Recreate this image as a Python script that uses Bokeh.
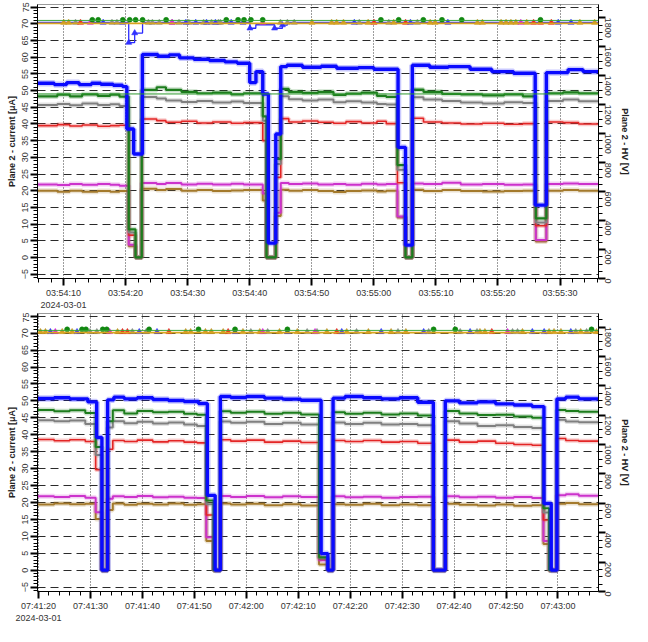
import math
import numpy as np
import pandas as pd
from bokeh.plotting import figure
from bokeh.models import (Range1d, LinearAxis, FixedTicker, DatetimeTickFormatter,
                          ColumnDataSource, Span)
from bokeh.layouts import column
from bokeh.embed import file_html
from bokeh.resources import INLINE

# ---------------- data ----------------
DATE = "2024-03-01"

# ---- top panel (seconds after 03:54:00) ----
TOP_BASE = "03:54:00"
TOP_XRANGE = [5.8, 96.2]
TOP_XTICKS = ["03:54:10", "03:54:20", "03:54:30", "03:54:40", "03:54:50",
              "03:55:00", "03:55:10", "03:55:20", "03:55:30"]

top_blue_t = [5.8, 8.5, 10.5, 12.5, 14.5, 16.0, 18.0, 19.5, 20.2, 21.3, 22.7, 25.2, 27.0,
              28.7, 31.0, 33.5, 36.0, 38.0, 40.0, 41.0, 42.1, 43.0, 44.2, 45.0, 46.0, 48.5,
              51.5, 54.0, 57.5, 60.0, 63.9, 65.1, 66.2, 69.0, 72.0, 75.5, 79.0, 82.5, 86.0,
              87.8, 91.3, 93.7, 96.2]
top_blue_v = [52.2, 51.8, 52.4, 51.8, 52.2, 51.9, 51.6, 51.2, 38.5, 31.0, 60.8, 60.3, 60.7,
              59.8, 59.4, 59.0, 58.6, 58.2, 52.4, 55.7, 49.0, 4.3, 37.0, 57.2, 57.6, 57.0,
              57.3, 56.7, 56.9, 56.4, 33.0, 3.7, 57.6, 57.0, 57.2, 56.4, 55.7, 55.2, 15.7,
              55.4, 56.3, 55.7, 55.7]

top_t = [5.8, 9.0, 11.0, 13.0, 15.5, 17.5, 19.0, 20.5, 21.6, 22.6, 25.0, 26.5, 29.0, 31.5,
         34.0, 37.0, 39.0, 42.1, 42.7, 44.2, 45.0, 46.3, 48.5, 51.0, 53.5, 55.5, 58.0, 60.5,
         62.0, 63.8, 65.1, 66.2, 68.0, 71.0, 74.0, 77.5, 81.0, 84.0, 86.1, 87.8, 90.5, 93.0, 96.2]
top_green_v = [48.3, 48.8, 48.3, 48.9, 48.4, 48.8, 48.2, 8.4, 0.0, 50.2, 51.0, 50.2, 49.6,
               49.2, 49.4, 48.9, 49.2, 42.3, 0.0, 29.5, 50.5, 49.6, 49.3, 49.6, 48.7, 49.1,
               49.4, 48.4, 48.1, 27.7, 0.0, 50.3, 49.6, 49.0, 48.9, 48.6, 48.9, 48.3, 11.7,
               49.2, 49.5, 49.2, 49.2]
top_gray_v = [45.7, 46.0, 45.6, 46.1, 45.7, 45.9, 45.4, 7.5, 0.0, 48.1, 47.6, 47.0, 46.6,
              46.9, 46.4, 46.7, 46.3, 41.0, 0.0, 28.0, 48.3, 47.4, 47.0, 47.3, 46.5, 46.8,
              46.4, 46.0, 45.8, 26.3, 0.0, 48.0, 47.3, 46.9, 46.4, 46.1, 46.5, 46.3, 10.5,
              46.9, 47.3, 46.8, 46.8]
top_red_v = [39.5, 39.8, 39.4, 39.7, 39.3, 39.5, 39.6, 6.7, 0.0, 41.5, 41.0, 40.5, 40.8,
             40.3, 40.6, 40.2, 40.4, 35.0, 0.0, 24.0, 41.6, 40.6, 40.9, 40.5, 40.2, 40.7,
             40.3, 40.8, 40.1, 22.4, 0.0, 41.7, 40.6, 40.3, 40.0, 40.2, 39.9, 40.1, 9.5,
             40.6, 40.4, 40.0, 40.0]
top_magenta_v = [21.9, 21.7, 22.0, 21.8, 22.0, 21.8, 21.5, 3.8, 0.0, 22.3, 22.0, 22.3, 21.9,
                 22.1, 21.9, 22.1, 21.9, 19.2, 0.0, 13.4, 22.3, 22.0, 22.2, 21.9, 22.0, 21.8,
                 22.1, 21.9, 22.0, 12.3, 0.0, 22.2, 22.0, 22.4, 21.9, 22.0, 21.8, 21.9, 5.2,
                 22.0, 22.2, 22.0, 22.0]
top_olive_v = [20.0, 19.7, 20.0, 19.7, 19.9, 19.7, 19.9, 3.4, 0.0, 20.6, 20.2, 20.5, 20.0,
               20.2, 19.9, 20.1, 20.2, 17.1, 0.0, 12.4, 20.3, 20.0, 20.2, 19.9, 19.6, 19.9,
               20.1, 19.8, 20.0, 12.0, 0.0, 20.3, 19.9, 20.2, 19.9, 19.8, 19.9, 20.0, 4.8,
               20.0, 20.2, 20.0, 20.0]
TOP_CURRENT_REF = 49.0

top_hv_blue_t = [5.8, 20.5, 21.46, 22.73, 40.03, 40.98, 44.0, 45.27, 46.06, 96.2]
top_hv_blue_v = [1768, 1629, 1695, 1768, 1728, 1752, 1728, 1750, 1768, 1768]
TOP_HV_GREEN = 1782
TOP_HV_ORANGE = 1762

top_mk_blue_t = [16.38, 19.55, 20.5, 21.46, 29.71, 31.30, 33.04, 34.47, 37.01, 38.92, 40.03,
                 44.0, 45.27, 56.85, 65.9, 71.93, 89.71, 91.77]
top_mk_blue_v = [1767, 1767, 1629, 1695, 1767, 1767, 1767, 1767, 1767, 1767, 1728,
                 1728, 1750, 1767, 1767, 1767, 1767, 1767]
top_mk_gray_t = [11.93, 17.80, 18.60, 23.68, 24.31, 25.42, 27.49, 28.60, 30.19, 32.57, 33.84,
                 34.95, 35.27, 44.95, 46.06, 47.17, 57.65, 62.41, 67.01]
top_mk_red_t = [12.73, 60.03, 65.11, 85.74, 86.85, 88.60]
top_mk_magenta_t = [14.31, 27.49, 42.09, 83.68]
top_mk_orange_t = [10.03, 10.82, 50.03, 53.20, 54.0, 55.11, 59.08, 63.20, 69.08, 69.87, 76.69,
                   77.49, 80.50, 81.30, 82.09, 82.88, 84.63, 93.20, 95.58]
top_mk_green_t = [14.63, 15.58, 19.55, 20.66, 21.61, 22.73, 26.53, 36.22, 38.12, 39.08, 40.19,
                  42.09, 61.14, 64.0, 67.97, 70.98, 74.16, 86.85]

# ---- bottom panel (seconds after 07:40:00) ----
BOT_BASE = "07:40:00"
BOT_XRANGE = [79.8, 187.8]
BOT_XTICKS = ["07:41:20", "07:41:30", "07:41:40", "07:41:50", "07:42:00", "07:42:10",
              "07:42:20", "07:42:30", "07:42:40", "07:42:50", "07:43:00"]

bot_blue_t = [79.8, 83.0, 86.0, 89.5, 91.2, 92.2, 93.3, 94.5, 96.5, 99.0, 102.0, 105.0, 108.0,
              110.8, 112.5, 114.0, 115.0, 117.0, 120.0, 123.5, 127.0, 130.5, 134.4, 135.7,
              136.7, 139.0, 142.5, 146.0, 149.5, 153.0, 156.0, 158.3, 161.0, 164.5, 168.0,
              171.5, 175.0, 177.3, 178.7, 179.8, 181.5, 184.0, 187.8]
bot_blue_v = [50.7, 50.9, 50.6, 49.7, 39.2, 0.0, 50.3, 51.1, 50.6, 50.9, 50.4, 50.1, 49.8,
              49.2, 22.1, 0.0, 51.3, 51.0, 51.3, 50.8, 50.5, 50.2, 4.9, 0.0, 50.8, 51.3, 50.9,
              50.6, 50.9, 49.6, 0.0, 50.0, 49.4, 49.7, 49.1, 48.8, 48.3, 19.7, 0.0, 50.6,
              51.1, 50.6, 50.6]

bot_t = [79.8, 83.0, 86.0, 89.0, 91.0, 92.2, 93.3, 94.3, 96.5, 99.0, 102.0, 105.0, 108.0,
         110.5, 112.3, 113.7, 115.0, 117.0, 120.0, 123.5, 127.0, 130.5, 134.0, 135.7, 136.7,
         139.0, 142.5, 146.0, 149.5, 153.0, 156.0, 158.3, 161.0, 164.5, 168.0, 171.5, 175.0,
         177.2, 178.3, 179.8, 181.5, 184.0, 187.8]
bot_green_v = [47.3, 46.9, 47.2, 46.4, 36.4, 0.0, 44.0, 47.2, 46.3, 47.0, 46.6, 46.8, 46.2,
               45.9, 20.6, 0.0, 46.9, 46.5, 46.8, 46.2, 46.5, 46.0, 3.8, 0.0, 46.6, 46.2, 46.5,
               46.0, 46.3, 45.7, 0.0, 47.0, 46.3, 45.8, 45.9, 45.4, 45.0, 18.3, 0.0, 47.3,
               47.0, 46.8, 46.8]
bot_gray_v = [44.3, 44.0, 44.2, 43.2, 34.0, 0.0, 42.1, 44.0, 43.4, 43.8, 43.3, 43.6, 43.0,
              42.6, 19.5, 0.0, 43.9, 43.5, 43.8, 43.2, 43.5, 43.0, 3.5, 0.0, 43.6, 43.2, 43.5,
              43.0, 43.2, 42.8, 0.0, 44.0, 43.3, 42.6, 42.8, 42.3, 42.0, 17.0, 0.0, 44.4,
              43.9, 43.7, 43.7]
bot_red_v = [38.6, 38.2, 38.5, 38.0, 29.7, 0.0, 35.7, 38.3, 38.0, 38.4, 37.9, 38.2, 37.8,
             37.6, 16.3, 0.0, 38.5, 38.1, 38.4, 37.8, 38.1, 37.7, 3.4, 0.0, 38.3, 38.0, 38.3,
             37.8, 38.0, 37.5, 0.0, 38.4, 37.8, 38.1, 37.5, 37.1, 36.9, 14.8, 0.0, 38.9,
             38.3, 38.1, 38.1]
bot_magenta_v = [21.8, 21.6, 21.9, 21.4, 17.1, 0.0, 21.1, 21.8, 21.6, 21.9, 21.5, 21.7, 21.4,
                 21.3, 9.7, 0.0, 21.9, 21.6, 21.9, 21.5, 21.8, 21.6, 2.9, 0.0, 21.8, 21.5,
                 21.7, 21.4, 21.6, 21.7, 0.0, 21.8, 21.5, 21.7, 21.4, 21.6, 21.3, 8.6, 0.0,
                 22.1, 22.4, 22.0, 22.0]
bot_olive_v = [19.4, 19.7, 19.5, 19.6, 15.1, 0.0, 17.8, 19.7, 19.3, 19.6, 19.4, 19.7, 19.3,
               19.5, 8.6, 0.0, 19.7, 19.4, 19.6, 19.2, 19.5, 19.1, 1.7, 0.0, 19.5, 19.3, 19.6,
               19.2, 19.4, 19.2, 0.0, 19.6, 19.3, 19.1, 19.4, 19.0, 19.2, 7.7, 0.0, 19.6,
               19.8, 19.5, 19.5]
BOT_HV_GREEN = 1777
BOT_HV_ORANGE = 1762

bot_mk_blue_t = [82.28, 87.41, 99.39, 102.81, 117.83, 127.91, 138.37, 145.97, 154.14, 163.08,
                 175.06, 177.34, 182.47]
bot_mk_gray_t = [89.89, 91.22, 98.06, 100.72, 120.87, 124.11, 131.71, 133.61, 141.22, 149.20,
                 155.10, 161.18, 164.41, 171.25, 172.21, 183.42, 185.51]
bot_mk_red_t = [96.16, 97.11, 105.10, 116.50, 137.41, 167.26]
bot_mk_magenta_t = [83.23, 93.69, 123.16, 133.23, 170.30]
bot_mk_orange_t = [80.38, 81.33, 84.56, 86.46, 95.21, 108.33, 109.28, 112.13, 113.27, 115.55,
                   119.35, 122.59, 126.39, 129.81, 135.51, 139.32, 143.50, 147.87, 150.72,
                   164.98, 165.93, 173.16, 178.29, 179.24, 180.57, 184.37, 187.41]
bot_mk_green_t = [85.51, 88.37, 89.13, 92.36, 93.12, 101.29, 110.80, 117.83, 127.91, 156.05,
                  160.23, 186.46]

CUR_TICKS = [-5, 0, 5, 10, 15, 20, 25, 30, 35, 40, 45, 50, 55, 60, 65, 70, 75]
HV_TICKS = [0, 200, 400, 600, 800, 1000, 1200, 1400, 1600, 1800]
CUR_RANGE = [-6.3, 75.8]
HV_RANGE = [0, 1892]
LEFT_LABEL = "Plane 2 - current [\u03bcA]"
RIGHT_LABEL = "Plane 2 - HV [V]"

# ---------------- helpers ----------------
C_BLUE = "#0a0aff"
C_GREEN = "#1d7d1d"
C_GRAY = "#808080"
C_RED = "#e32626"
C_MAG = "#cc33cc"
C_OLIVE = "#a47a2c"
FONT = "Liberation Sans"


def to_dt(base, secs):
    b = pd.Timestamp(f"{DATE} {base}")
    return [b + pd.Timedelta(seconds=float(s)) for s in secs]


def ms(ts):
    return ts.value / 1e6


def make_fig(base, xr, xticks, height, border_top, series, hv_blue, hv_green, hv_orange,
             markers, cur_ref=None):
    xs = to_dt(base, xr)
    p = figure(width=632, height=height, x_axis_type="datetime",
               x_range=Range1d(xs[0], xs[1]), y_range=Range1d(*CUR_RANGE),
               output_backend="svg", toolbar_location=None,
               min_border_left=37, min_border_right=31, min_border_top=border_top,
               min_border_bottom=31)
    p.extra_y_ranges = {"hv": Range1d(*HV_RANGE)}
    p.background_fill_color = "white"
    p.border_fill_color = "white"
    p.outline_line_color = "#9a9a9a"
    p.outline_line_width = 1

    # x axis ticks
    major = [ms(pd.Timestamp(f"{DATE} {t}")) for t in xticks]
    minor = list(np.arange(major[0] - 10000, major[-1] + 10001, 2000))
    p.xaxis.ticker = FixedTicker(ticks=major, minor_ticks=minor)
    fmt = "%H:%M:%S"
    p.xaxis.formatter = DatetimeTickFormatter(
        milliseconds=fmt, seconds=fmt, minsec=fmt, minutes=fmt, hourmin=fmt, hours=fmt,
        context="%Y-%m-%d", context_which="start", context_location="below")

    # y axes
    p.yaxis.ticker = FixedTicker(ticks=CUR_TICKS, minor_ticks=list(range(-6, 77)))
    p.yaxis.major_label_orientation = "vertical"
    p.yaxis.axis_label = LEFT_LABEL
    hv_axis = LinearAxis(y_range_name="hv", axis_label=RIGHT_LABEL,
                         ticker=FixedTicker(ticks=HV_TICKS,
                                            minor_ticks=list(range(0, 1901, 50))))
    hv_axis.major_label_orientation = -math.pi / 2
    p.add_layout(hv_axis, "right")

    for ax in [p.xaxis[0], p.yaxis[0], hv_axis]:
        ax.axis_line_color = "black"
        ax.axis_line_width = 1
        ax.major_tick_line_color = "black"
        ax.major_tick_line_width = 2
        ax.major_tick_out = 7
        ax.major_tick_in = 0
        ax.minor_tick_line_color = "black"
        ax.minor_tick_line_width = 1
        ax.minor_tick_out = 4
        ax.minor_tick_in = 0
        ax.major_label_text_font = FONT
        ax.major_label_text_font_size = "9px"
        ax.major_label_text_color = "#333333"
        ax.major_label_standoff = 2
        ax.axis_label_text_font = FONT
        ax.axis_label_text_font_size = "9px"
        ax.axis_label_text_font_style = "bold"
        ax.axis_label_text_color = "#222222"
        ax.axis_label_standoff = 3

    p.ygrid.grid_line_color = "#2a2a2a"
    p.ygrid.grid_line_dash = "8 5"
    p.ygrid.grid_line_width = 1
    p.xgrid.grid_line_color = "#3a3a3a"
    p.xgrid.grid_line_dash = "1 2"
    p.xgrid.grid_line_width = 1

    if cur_ref is not None:
        p.add_layout(Span(location=cur_ref, dimension="width", line_color="#2e9a2e",
                          line_width=1))
    p.add_layout(Span(location=hv_green, dimension="width", y_range_name="hv",
                      line_color="#3aa83a", line_width=1))
    p.add_layout(Span(location=hv_orange, dimension="width", y_range_name="hv",
                      line_color="#d9a41f", line_width=1.6))

    # current step lines (with soft halo)
    for t, v, color, w in series:
        src = ColumnDataSource(dict(x=to_dt(base, t), y=v))
        p.step("x", "y", source=src, mode="after", line_color=color,
               line_width=w + 3, line_alpha=0.22)
        p.step("x", "y", source=src, mode="after", line_color=color, line_width=w)

    # HV blue step
    if hv_blue is not None:
        src = ColumnDataSource(dict(x=to_dt(base, hv_blue[0]), y=hv_blue[1]))
        p.step("x", "y", source=src, mode="after", line_color="#2a2aff",
               line_width=1.3, y_range_name="hv")

    # HV markers
    for t, v, color, marker, size in markers:
        p.scatter(to_dt(base, t), v, marker=marker, size=size, fill_color=color,
                  line_color=color, line_width=0.6, y_range_name="hv")
    return p


def flat(t, level):
    return [level for _ in t]


top_series = [
    (top_t, top_olive_v, C_OLIVE, 2.0),
    (top_t, top_magenta_v, C_MAG, 2.0),
    (top_t, top_red_v, C_RED, 1.6),
    (top_t, top_gray_v, C_GRAY, 2.0),
    (top_t, top_green_v, C_GREEN, 2.2),
    (top_blue_t, top_blue_v, C_BLUE, 3.4),
]
top_markers = [
    (top_mk_orange_t, flat(top_mk_orange_t, 1767), "#c8962a", "triangle", 6),
    (top_mk_gray_t, flat(top_mk_gray_t, 1767), "#8a8a8a", "triangle", 6),
    (top_mk_red_t, flat(top_mk_red_t, 1767), "#ee2222", "triangle", 6),
    (top_mk_magenta_t, flat(top_mk_magenta_t, 1767), "#dd22dd", "triangle", 6),
    (top_mk_blue_t, top_mk_blue_v, "#3030ff", "triangle", 6),
    (top_mk_green_t, flat(top_mk_green_t, 1786), "#118811", "circle", 5),
]
bot_series = [
    (bot_t, bot_olive_v, C_OLIVE, 2.0),
    (bot_t, bot_magenta_v, C_MAG, 2.0),
    (bot_t, bot_red_v, C_RED, 1.6),
    (bot_t, bot_gray_v, C_GRAY, 2.0),
    (bot_t, bot_green_v, C_GREEN, 2.0),
    (bot_blue_t, bot_blue_v, C_BLUE, 3.4),
]
bot_markers = [
    (bot_mk_orange_t, flat(bot_mk_orange_t, 1767), "#c8962a", "triangle", 6),
    (bot_mk_gray_t, flat(bot_mk_gray_t, 1767), "#8a8a8a", "triangle", 6),
    (bot_mk_red_t, flat(bot_mk_red_t, 1767), "#ee2222", "triangle", 6),
    (bot_mk_magenta_t, flat(bot_mk_magenta_t, 1767), "#dd22dd", "triangle", 6),
    (bot_mk_blue_t, flat(bot_mk_blue_t, 1767), "#3030ff", "triangle", 6),
    (bot_mk_green_t, flat(bot_mk_green_t, 1784), "#118811", "circle", 5),
]

p1 = make_fig(TOP_BASE, TOP_XRANGE, TOP_XTICKS, 312, 4, top_series,
              (top_hv_blue_t, top_hv_blue_v), TOP_HV_GREEN, TOP_HV_ORANGE,
              top_markers, cur_ref=TOP_CURRENT_REF)
p2 = make_fig(BOT_BASE, BOT_XRANGE, BOT_XTICKS, 313, 1, bot_series,
              None, BOT_HV_GREEN, BOT_HV_ORANGE, bot_markers)

layout = column(p1, p2, spacing=0)
open("out.html", "w").write(file_html(layout, INLINE))
